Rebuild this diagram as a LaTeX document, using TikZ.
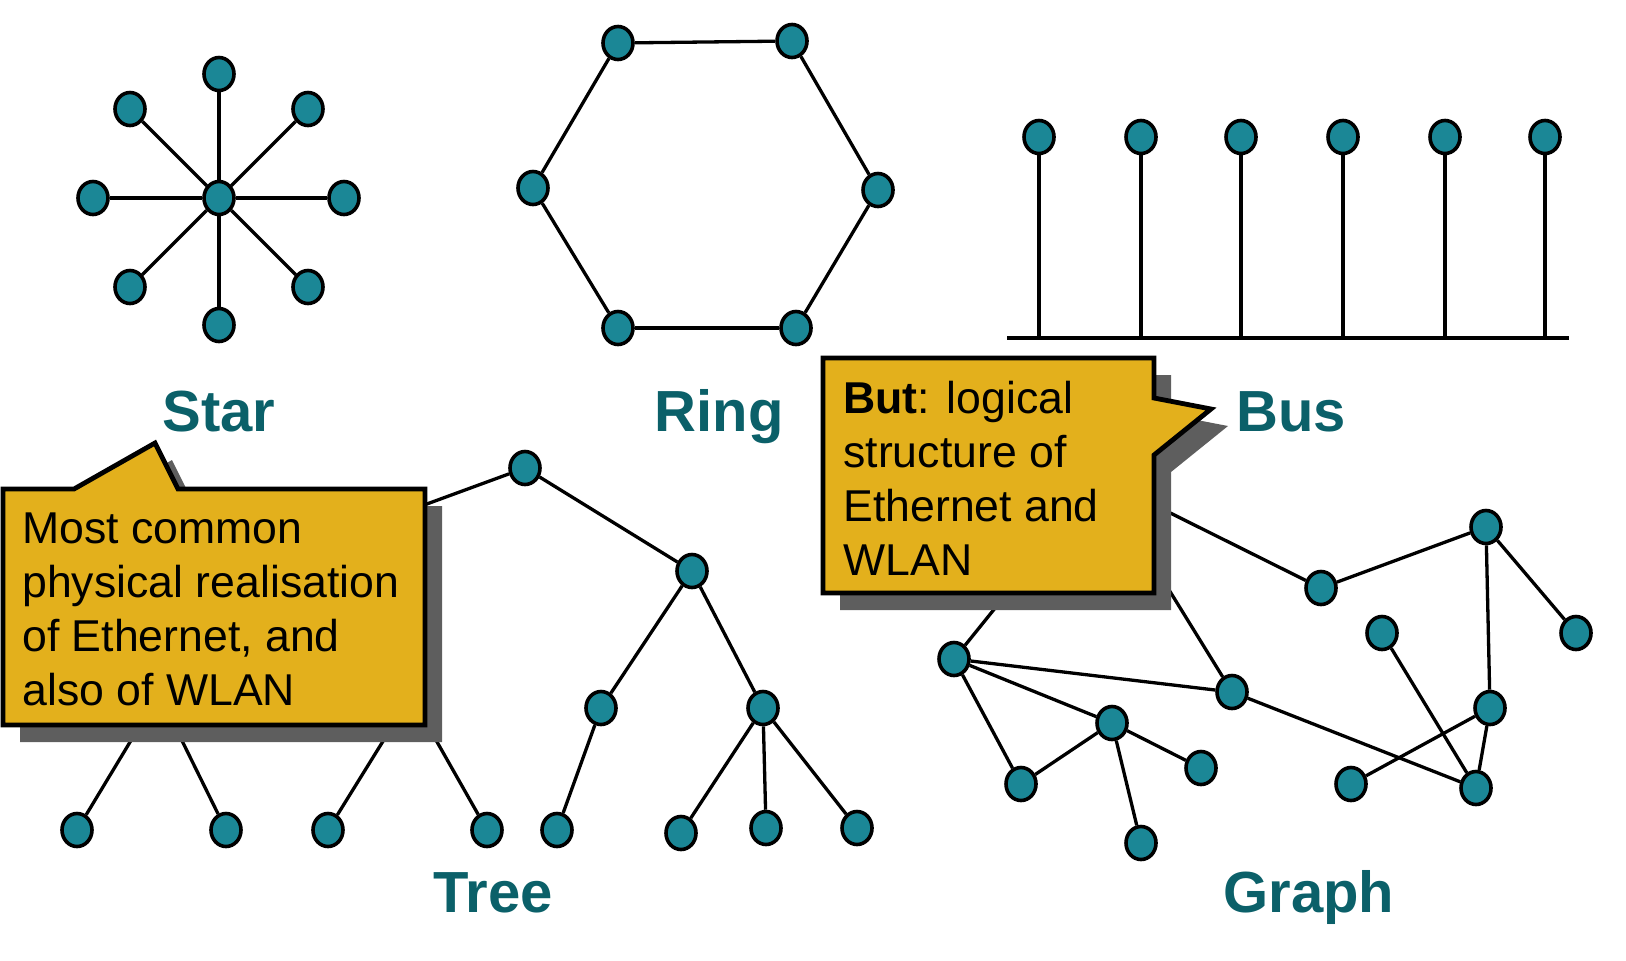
\documentclass[tikz,border=0pt]{standalone}
\usepackage{fontspec}
\setmainfont{Liberation Sans}
\usetikzlibrary{shapes.geometric}
\definecolor{nodefill}{HTML}{1B8796}
\definecolor{labelcol}{HTML}{0B6069}
\definecolor{callfill}{HTML}{E3B01C}
\definecolor{shadowcol}{HTML}{5E5E5E}
\begin{document}
\begin{tikzpicture}[x=0.5pt,y=-0.5pt,
  nd/.style={ellipse,draw=black,line width=1.8pt,fill=nodefill,minimum width=15pt,minimum height=16.5pt,inner sep=0pt},
  edge/.style={line width=1.65pt},
  busline/.style={line width=2.1pt},
  toplabel/.style={text=labelcol,font=\fontsize{29}{34}\selectfont\bfseries,anchor=base,inner sep=0pt},
  calltext/.style={font=\fontsize{22.3}{27}\selectfont,align=left,anchor=north west,inner sep=0pt},
  callout/.style={fill=callfill,draw=black,line width=2.4pt,line join=miter},
  shadowbox/.style={fill=shadowcol}
]
\useasboundingbox (0,0) rectangle (1626,960);

% ---------- Star ----------
\node[nd] (sc) at (219,198) {};
\node[nd] (s1) at (219,74) {};
\node[nd] (s2) at (308,109) {};
\node[nd] (s3) at (344,198) {};
\node[nd] (s4) at (308,287) {};
\node[nd] (s5) at (219,325) {};
\node[nd] (s6) at (130,287) {};
\node[nd] (s7) at (93,198) {};
\node[nd] (s8) at (130,109) {};
\foreach \i in {1,...,8} \draw[edge] (sc) -- (s\i);
\node[toplabel] (lstar) at (219,431) {Star};

% ---------- Ring ----------
\node[nd] (r1) at (618,43) {};
\node[nd] (r2) at (792,41) {};
\node[nd] (r3) at (878,190) {};
\node[nd] (r4) at (796,328) {};
\node[nd] (r5) at (618,328) {};
\node[nd] (r6) at (533,188) {};
\draw[edge] (r1) -- (r2);
\draw[edge] (r2) -- (r3);
\draw[edge] (r3) -- (r4);
\draw[edge] (r4) -- (r5);
\draw[edge] (r5) -- (r6);
\draw[edge] (r6) -- (r1);
\node[toplabel] (lring) at (719,431) {Ring};

% ---------- Bus ----------
\coordinate (busL) at (1007,338);
\coordinate (busR) at (1569,338);
\draw[busline] (busL) -- (busR);
\foreach \i/\x in {1/1039,2/1141,3/1241,4/1343,5/1445,6/1545}{
  \node[nd] (b\i) at (\x,137) {};
  \draw[edge] (b\i) -- (b\i |- busL);
}
\node[toplabel] (lbus) at (1291,431) {Bus};

% ---------- Tree ----------
\node[nd] (t0) at (525,468) {};
\node[nd] (ta) at (692,571) {};
\node[nd] (tb) at (601,708) {};
\node[nd] (tc) at (763,708) {};
\node[nd] (tb1) at (557,830) {};
\node[nd] (tc1) at (681,833) {};
\node[nd] (tc2) at (766,828) {};
\node[nd] (tc3) at (857,828) {};
\node[nd] (tl1) at (77,830) {};
\node[nd] (tl2) at (226,830) {};
\node[nd] (tl3) at (328,830) {};
\node[nd] (tl4) at (487,830) {};
\coordinate (hp) at (285,556);
\coordinate (hl) at (159,694);
\coordinate (hr) at (411,696);
\draw[edge] (t0) -- (ta);
\draw[edge] (t0) -- (hp);
\draw[edge] (hp) -- (hl);
\draw[edge] (hp) -- (hr);
\draw[edge] (hl) -- (tl1);
\draw[edge] (hl) -- (tl2);
\draw[edge] (hr) -- (tl3);
\draw[edge] (hr) -- (tl4);
\draw[edge] (ta) -- (tb);
\draw[edge] (ta) -- (tc);
\draw[edge] (tb) -- (tb1);
\draw[edge] (tc) -- (tc1);
\draw[edge] (tc) -- (tc2);
\draw[edge] (tc) -- (tc3);
\node[toplabel] (ltree) at (493,912) {Tree};

% ---------- Graph ----------
\node[nd] (g1) at (1486,527) {};
\node[nd] (g2) at (1321,588) {};
\node[nd] (g3) at (1576,633) {};
\node[nd] (g4) at (1382,633) {};
\node[nd] (g5) at (954,659) {};
\node[nd] (g6) at (1232,692) {};
\node[nd] (g7) at (1490,708) {};
\node[nd] (g8) at (1112,723) {};
\node[nd] (g9) at (1021,784) {};
\node[nd] (g10) at (1201,768) {};
\node[nd] (g11) at (1351,784) {};
\node[nd] (g12) at (1476,788) {};
\node[nd] (g13) at (1141,843) {};
\coordinate (gh) at (1100,478);
\draw[edge] (gh) -- (g2);
\draw[edge] (gh) -- (g5);
\draw[edge] (gh) -- (g6);
\draw[edge] (g2) -- (g1);
\draw[edge] (g1) -- (g3);
\draw[edge] (g1) -- (g7);
\draw[edge] (g4) -- (g12);
\draw[edge] (g7) -- (g12);
\draw[edge] (g7) -- (g11);
\draw[edge] (g6) -- (g12);
\draw[edge] (g5) -- (g6);
\draw[edge] (g5) -- (g8);
\draw[edge] (g5) -- (g9);
\draw[edge] (g8) -- (g9);
\draw[edge] (g8) -- (g10);
\draw[edge] (g8) -- (g13);
\node[toplabel] (lgraph) at (1309,912) {Graph};

% ---------- Callout left ----------
\fill[shadowbox, shift={(17,17)}] (3,489) -- (74,489) -- (155,443) -- (178,489) -- (425,489) -- (425,725) -- (3,725) -- cycle;
\draw[callout] (3,489) -- (74,489) -- (155,443) -- (178,489) -- (425,489) -- (425,725) -- (3,725) -- cycle;
\node[calltext] (ctl) at (22,512) {Most common\\physical realisation\\of Ethernet, and\\also of WLAN};

% ---------- Callout right ----------
\fill[shadowbox, shift={(17,17)}] (823,358) -- (1154,358) -- (1154,398) -- (1211,409) -- (1154,455) -- (1154,593) -- (823,593) -- cycle;
\draw[callout] (823,358) -- (1154,358) -- (1154,398) -- (1211,409) -- (1154,455) -- (1154,593) -- (823,593) -- cycle;
\node[calltext] (ctr) at (843,381) {\textbf{But}: logical\\structure of\\Ethernet and\\WLAN};
\end{tikzpicture}
\end{document}
